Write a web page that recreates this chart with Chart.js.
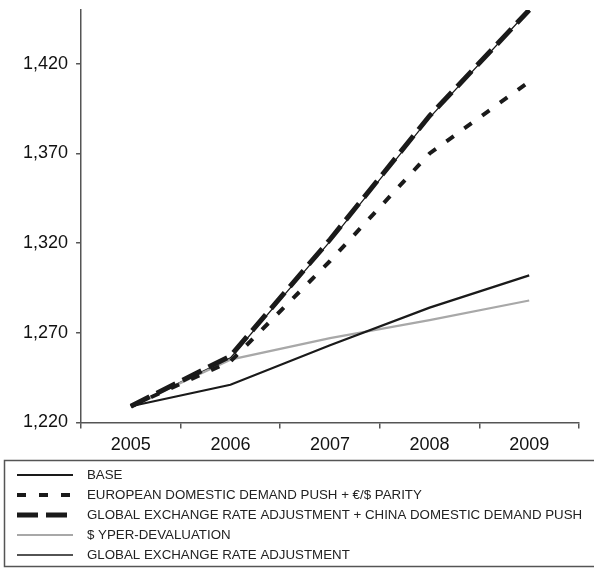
<!DOCTYPE html>
<html>
<head>
<meta charset="utf-8">
<script src="https://cdn.jsdelivr.net/npm/chart.js@4.4.1/dist/chart.umd.min.js"></script>
<style>
  html, body { margin: 0; padding: 0; background: #fff; }
  #contenedor { width: 594px; height: 569px; position: relative; }
</style>
</head>
<body>
<div id="contenedor">
  <canvas id="grafico"></canvas>
</div>
<script>
// Años y escenarios
const anios = ['2005', '2006', '2007', '2008', '2009'];
const base = [1229, 1241, 1263, 1284, 1302];
const empujeEuropeo = [1229, 1254, 1310, 1370, 1410];
const ajusteGlobalChina = [1229, 1257, 1322, 1391, 1450];
const devaluacionDolar = [1229, 1255, 1267, 1277, 1288];
const ajusteGlobal = [1229, 1256, 1321, 1390, 1450];

const etiquetas = [
    'BASE',
    'EUROPEAN DOMESTIC DEMAND PUSH + €/$ PARITY',
    'GLOBAL EXCHANGE RATE ADJUSTMENT + CHINA DOMESTIC DEMAND PUSH',
    '$ YPER-DEVALUATION',
    'GLOBAL EXCHANGE RATE ADJUSTMENT'
];

// Marcas del eje Y
const ticksY = [1220, 1270, 1320, 1370, 1420];

const fuente = '"Liberation Sans", Arial, Helvetica, sans-serif';
const colorEje = '#555';

// Leyenda dibujada a mano: un recuadro con una fila por serie
const leyendaRecuadro = {
    id: 'leyendaRecuadro',
    afterDraw(chart) {
        const ctx = chart.ctx;
        ctx.save();
        ctx.strokeStyle = colorEje;
        ctx.lineWidth = 1.5;
        ctx.strokeRect(4.5, 460.5, 600, 106);

        chart.data.datasets.forEach((ds, i) => {
            const y = 475 + i * 20;
            ctx.beginPath();
            ctx.strokeStyle = ds.borderColor;
            ctx.lineWidth = ds.borderWidth;
            ctx.setLineDash(ds.borderDash || []);
            ctx.moveTo(17, y);
            ctx.lineTo(73, y);
            ctx.stroke();
            ctx.setLineDash([]);

            ctx.fillStyle = '#222';
            ctx.font = '13.3px ' + fuente;
            ctx.textBaseline = 'middle';
            ctx.fillText(ds.label, 87, y + 0.5);
        });
        ctx.restore();
    }
};

const ctx = document.getElementById('grafico').getContext('2d');
window.chart = new Chart(ctx, {
    type: 'line',
    data: {
        labels: anios,
        datasets: [
            { label: etiquetas[0], data: base, borderColor: '#1a1a1a', borderWidth: 2.2 },
            { label: etiquetas[1], data: empujeEuropeo, borderColor: '#1a1a1a', borderWidth: 4, borderDash: [9, 13] },
            { label: etiquetas[2], data: ajusteGlobalChina, borderColor: '#1a1a1a', borderWidth: 5, borderDash: [21, 8] },
            { label: etiquetas[3], data: devaluacionDolar, borderColor: '#a8a8a8', borderWidth: 2.2 },
            { label: etiquetas[4], data: ajusteGlobal, borderColor: '#1a1a1a', borderWidth: 1.3 }
        ]
    },
    options: {
        responsive: true,
        maintainAspectRatio: false,
        animation: false,
        elements: {
            point: { radius: 0, hoverRadius: 0 },
            line: { tension: 0, fill: false }
        },
        layout: { padding: { left: 15, top: 10, right: 15, bottom: 107 } },
        plugins: {
            legend: { display: false },
            tooltip: { enabled: false }
        },
        scales: {
            x: {
                type: 'category',
                offset: true,
                grid: { offset: true, drawOnChartArea: false, tickLength: 6, color: colorEje, lineWidth: 1.5 },
                border: { color: colorEje, width: 1.5 },
                ticks: { color: '#111', padding: 6, font: { family: fuente, size: 18 } }
            },
            y: {
                min: 1220,
                max: 1450,
                afterBuildTicks: scale => {
                    scale.ticks = ticksY.map(v => ({ value: v }));
                },
                // sin margen extra arriba: la marca superior no está en el borde
                afterFit: scale => {
                    scale.paddingTop = 0;
                },
                grid: { drawOnChartArea: false, tickLength: 5, color: colorEje, lineWidth: 1.5 },
                border: { color: colorEje, width: 1.5 },
                ticks: {
                    color: '#111',
                    padding: 8,
                    font: { family: fuente, size: 18 },
                    callback: v => v.toLocaleString('en-US')
                }
            }
        }
    },
    plugins: [leyendaRecuadro]
});
</script>
</body>
</html>
